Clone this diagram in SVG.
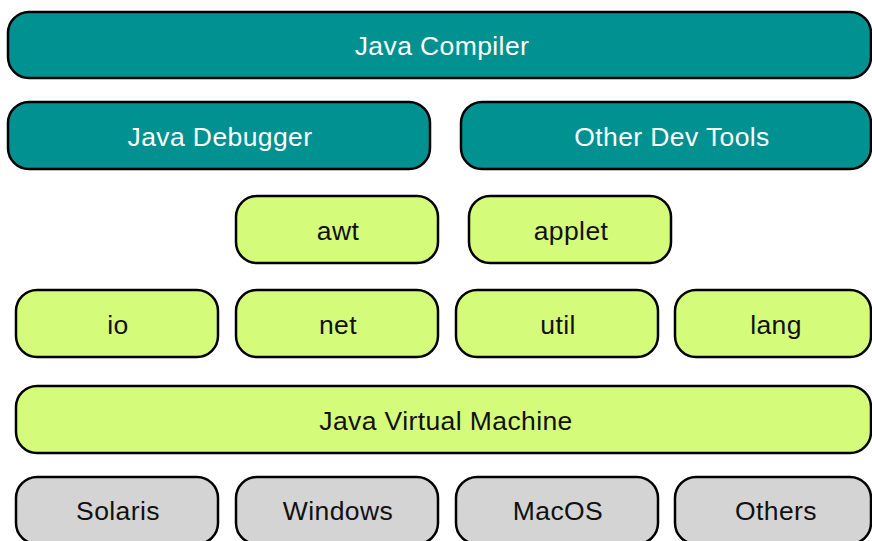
<svg xmlns="http://www.w3.org/2000/svg" width="872" height="541" viewBox="0 0 872 541">
<style>
rect{stroke:#000;stroke-width:2.5}
.t rect{fill:#009190}
.g rect{fill:#d5fb7a}
.s rect{fill:#d4d4d4}
text{font-family:"Liberation Sans",Arial,sans-serif;font-size:26.5px;letter-spacing:0.4px;text-anchor:middle;fill:#111}
.t text{fill:#fff}
</style>
<rect width="872" height="541" fill="#fff" style="stroke:none"/>
<g id="nodes">
<g id="compiler" class="t"><rect x="8" y="12" width="863" height="66" rx="21"/><text x="442" y="55">Java Compiler</text></g>
<g id="debugger" class="t"><rect x="8" y="102" width="422" height="67" rx="21"/><text x="220" y="145.5">Java Debugger</text></g>
<g id="devtools" class="t"><rect x="461" y="102" width="410" height="67" rx="21"/><text x="672" y="145.5">Other Dev Tools</text></g>
<g id="awt" class="g"><rect x="236" y="196" width="202" height="67" rx="21"/><text x="338" y="239.5">awt</text></g>
<g id="applet" class="g"><rect x="469" y="196" width="202" height="67" rx="21"/><text x="571" y="239.5">applet</text></g>
<g id="io" class="g"><rect x="16" y="290" width="202" height="67" rx="21"/><text x="118" y="333.5">io</text></g>
<g id="net" class="g"><rect x="236" y="290" width="202" height="67" rx="21"/><text x="338" y="333.5">net</text></g>
<g id="util" class="g"><rect x="456" y="290" width="202" height="67" rx="21"/><text x="558" y="333.5">util</text></g>
<g id="lang" class="g"><rect x="675" y="290" width="196" height="67" rx="21"/><text x="776" y="333.5">lang</text></g>
<g id="jvm" class="g"><rect x="16" y="386" width="855" height="67" rx="21"/><text x="446" y="429.5">Java Virtual Machine</text></g>
<g id="solaris" class="s"><rect x="16" y="477" width="202" height="67" rx="21"/><text x="118" y="520">Solaris</text></g>
<g id="windows" class="s"><rect x="236" y="477" width="202" height="67" rx="21"/><text x="338" y="520">Windows</text></g>
<g id="macos" class="s"><rect x="456" y="477" width="202" height="67" rx="21"/><text x="558" y="520">MacOS</text></g>
<g id="others" class="s"><rect x="675" y="477" width="196" height="67" rx="21"/><text x="776" y="520">Others</text></g>
</g>
<g id="connectors"/>
</svg>
